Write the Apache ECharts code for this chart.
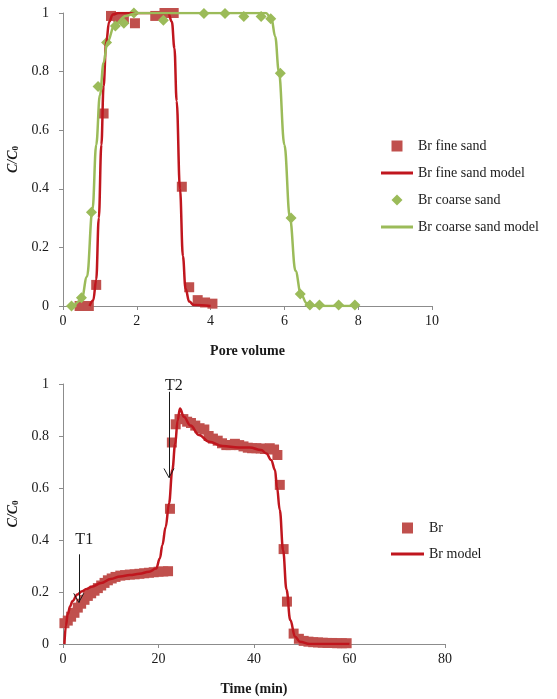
<!DOCTYPE html>
<html><head><meta charset="utf-8">
<script src="https://cdn.jsdelivr.net/npm/echarts@6/dist/echarts.min.js"></script>
<style>html,body{margin:0;padding:0;background:#fff}#c{width:557px;height:699px}</style>
</head><body><div id="c"></div>
<script>
// ---- Top chart data (pore volume vs C/C0) ----
const fineSand = [[0.45,0.0],[0.7,0.0],[0.9,0.072],[1.1,0.657],[1.3,0.99],[1.5,0.985],[1.65,0.98],[1.95,0.965],[2.5,0.99],[2.75,1.0],[3.0,1.0],[3.22,0.407],[3.42,0.064],[3.65,0.02],[3.85,0.012],[4.05,0.008]];
const fineModel = [[0.72,0.0],[0.82,0.02],[0.9,0.09],[0.97,0.3],[1.04,0.55],[1.1,0.75],[1.17,0.9],[1.25,0.97],[1.35,0.995],[1.5,1.0],[2.85,1.0],[2.95,0.97],[3.02,0.88],[3.08,0.7],[3.17,0.4],[3.25,0.17],[3.32,0.06],[3.42,0.015],[3.55,0.003],[4.0,0.0]];
const coarseSand = [[0.23,0.0],[0.5,0.028],[0.77,0.32],[0.95,0.749],[1.18,0.899],[1.42,0.956],[1.65,0.965],[1.92,1.0],[2.72,0.975],[3.82,0.998],[4.39,0.998],[4.9,0.988],[5.37,0.988],[5.63,0.98],[5.89,0.794],[6.18,0.3],[6.43,0.041],[6.69,0.003],[6.95,0.003],[7.47,0.003],[7.91,0.003]];
const coarseModel = [[0.3,0.0],[0.5,0.02],[0.65,0.1],[0.8,0.33],[0.9,0.55],[1.0,0.72],[1.1,0.83],[1.2,0.9],[1.4,0.96],[1.7,0.99],[2.0,1.0],[5.5,1.0],[5.65,0.98],[5.75,0.92],[5.85,0.8],[6.0,0.55],[6.15,0.3],[6.3,0.12],[6.45,0.04],[6.6,0.01],[6.8,0.0],[7.9,0.0]];
// ---- Bottom chart data (time vs C/C0) ----
const brData = [[0.3,0.08],[1,0.09],[1.7,0.105],[2.4,0.12],[3.1,0.14],[3.8,0.155],[4.5,0.17],[5.2,0.185],[5.9,0.195],[6.6,0.205],[7.3,0.215],[8,0.225],[8.7,0.235],[9.4,0.245],[10.2,0.252],[11,0.258],[12,0.263],[13,0.265],[14,0.267],[15,0.268],[16,0.27],[17,0.272],[18,0.274],[19,0.276],[20,0.278],[21,0.279],[22,0.28],[22.4,0.52],[22.8,0.775],[23.6,0.845],[24.4,0.865],[25.2,0.865],[26,0.855],[26.8,0.85],[27.7,0.84],[28.6,0.83],[29.6,0.825],[30.5,0.8],[31.4,0.79],[32.4,0.782],[33.3,0.772],[34.2,0.765],[35.1,0.765],[36,0.77],[36.9,0.765],[37.8,0.76],[38.7,0.755],[39.6,0.753],[40.5,0.753],[41.4,0.752],[42.3,0.75],[43.3,0.753],[44.2,0.748],[44.9,0.727],[45.4,0.612],[46.2,0.365],[46.9,0.163],[48.3,0.04],[49.4,0.02],[50.4,0.012],[51.4,0.009],[52.4,0.007],[53.4,0.006],[54.4,0.005],[55.4,0.004],[56.4,0.004],[57.4,0.003],[58.4,0.003],[59.4,0.003]];
const brModel = [[0.3,0.0],[0.6,0.07],[1,0.115],[1.5,0.145],[2,0.165],[3,0.19],[4,0.203],[5,0.212],[6,0.22],[8,0.235],[10,0.25],[12,0.26],[14,0.265],[16,0.27],[18,0.278],[19.5,0.29],[20.3,0.33],[20.8,0.38],[21.5,0.45],[22.2,0.54],[22.9,0.67],[23.5,0.77],[24,0.86],[24.5,0.906],[25.3,0.874],[26.7,0.84],[28.5,0.804],[30.6,0.778],[33.4,0.762],[36.8,0.756],[39.1,0.756],[41.5,0.746],[42.6,0.733],[43.6,0.708],[44.4,0.669],[44.8,0.605],[45.4,0.515],[46.1,0.36],[46.8,0.21],[47.6,0.092],[48.6,0.028],[49.6,0.009],[51.7,0.0],[60,0.0]];
// ---- Annotations (data coords) ----
const annoLabels = ['T1','T2'];
const annoText = [[4.45,0.40],[23.2,0.992]];
const annoShaft = [[[3.3,0.345],[3.3,0.16]],[[22.2,0.97],[22.2,0.64]]];
const arrowArm = [1.05,0.035];
// ---- Axes ----
const topX = {min:0,max:10,interval:2};
const botX = {min:0,max:80,interval:20};
const yAx = {min:0,max:1,interval:0.2};

const SERIF = 'Liberation Serif';
const RED_SQ = '#C0504D', RED_LN = '#C0161E', GREEN = '#9BBB59';
const SQUARE = 'path://M0,0 L10,0 L10,10 L0,10 Z';
const DIAMOND = 'path://M5,0 L10,5 L5,10 L0,5 Z';
const LINEICON = 'path://M0,0 L32,0 L32,3 L0,3 Z';
const axisCommon = {
  axisLine:{show:true,lineStyle:{color:'#8c8c8c',width:1}},
  axisTick:{show:true,length:4,lineStyle:{color:'#8c8c8c'}},
  splitLine:{show:false},
  axisLabel:{color:'#1a1a1a',fontFamily:SERIF,fontSize:14}
};
const yName = {
  name:'{i|C/C}{s|0}', nameLocation:'middle', nameGap:38, nameRotate:90,
  nameTextStyle:{rich:{i:{fontFamily:SERIF,fontStyle:'italic',fontWeight:'bold',fontSize:14,color:'#1a1a1a'},
                       s:{fontFamily:SERIF,fontWeight:'bold',fontSize:9,color:'#1a1a1a',verticalAlign:'bottom',padding:[6,0,0,0]}}}
};
function yAxis(gi){
  return Object.assign({type:'value',gridIndex:gi,min:yAx.min,max:yAx.max,interval:yAx.interval},axisCommon,yName,
    {axisLabel:Object.assign({},axisCommon.axisLabel,{margin:14,formatter:v=>String(Math.round(v*10)/10)})});
}
const arrowLines = [];
annoShaft.forEach(s=>{
  const tip = s[1];
  arrowLines.push([{coord:s[0]},{coord:tip}]);
  arrowLines.push([{coord:[tip[0]-arrowArm[0],tip[1]+arrowArm[1]]},{coord:tip}]);
  arrowLines.push([{coord:[tip[0]+arrowArm[0],tip[1]+arrowArm[1]]},{coord:tip}]);
});
const legendText = {fontFamily:SERIF,fontSize:14,color:'#1a1a1a'};
const chart = echarts.init(document.getElementById('c'));
chart.setOption({
  animation:false,
  backgroundColor:'#fff',
  grid:[{left:63,top:13,width:369,height:293,containLabel:false,outerBoundsMode:'none'},
        {left:63,top:384,width:382,height:260,containLabel:false,outerBoundsMode:'none'}],
  xAxis:[
    Object.assign({type:'value',gridIndex:0,min:topX.min,max:topX.max,interval:topX.interval,name:'Pore volume',nameLocation:'middle',nameGap:38,
      nameTextStyle:{fontFamily:SERIF,fontWeight:'bold',fontSize:14,color:'#1a1a1a'}},axisCommon),
    Object.assign({type:'value',gridIndex:1,min:botX.min,max:botX.max,interval:botX.interval,name:'Time (min)',nameLocation:'middle',nameGap:38,
      nameTextStyle:{fontFamily:SERIF,fontWeight:'bold',fontSize:14,color:'#1a1a1a'}},axisCommon)
  ],
  yAxis:[yAxis(0),yAxis(1)],
  legend:[
    {orient:'vertical',left:381,top:139,padding:0,itemWidth:32,itemHeight:11,itemGap:13,symbolKeepAspect:true,
     data:[{name:'Br fine sand',icon:SQUARE},{name:'Br fine sand model',icon:LINEICON},{name:'Br coarse sand',icon:DIAMOND},{name:'Br coarse sand model',icon:LINEICON}],
     textStyle:legendText},
    {orient:'vertical',left:391,top:521,padding:0,itemWidth:33,itemHeight:11,itemGap:12,symbolKeepAspect:true,
     data:[{name:'Br',icon:SQUARE},{name:'Br model',icon:LINEICON}],
     textStyle:legendText}
  ],
  series:[
    {name:'Br fine sand',type:'scatter',xAxisIndex:0,yAxisIndex:0,data:fineSand,symbol:'rect',symbolSize:10,itemStyle:{color:RED_SQ,opacity:1}},
    {name:'Br fine sand model',type:'line',xAxisIndex:0,yAxisIndex:0,data:fineModel,symbol:'none',showSymbol:false,smooth:0.4,smoothMonotone:'x',lineStyle:{color:RED_LN,width:2.5},itemStyle:{color:RED_LN}},
    {name:'Br coarse sand',type:'scatter',xAxisIndex:0,yAxisIndex:0,data:coarseSand,symbol:'diamond',symbolSize:11,itemStyle:{color:GREEN,opacity:1}},
    {name:'Br coarse sand model',type:'line',xAxisIndex:0,yAxisIndex:0,data:coarseModel,symbol:'none',showSymbol:false,smooth:0.4,smoothMonotone:'x',lineStyle:{color:GREEN,width:2.5},itemStyle:{color:GREEN}},
    {name:'Br',type:'scatter',xAxisIndex:1,yAxisIndex:1,data:brData,symbol:'rect',symbolSize:10,itemStyle:{color:RED_SQ,opacity:1}},
    {name:'Br model',type:'line',xAxisIndex:1,yAxisIndex:1,data:brModel,symbol:'none',showSymbol:false,smooth:0.4,smoothMonotone:'x',lineStyle:{color:RED_LN,width:2.5},itemStyle:{color:RED_LN},
     markLine:{silent:true,symbol:['none','none'],label:{show:false},lineStyle:{color:'#1a1a1a',width:1,type:'solid'},data:arrowLines},
     markPoint:{silent:true,symbol:'circle',symbolSize:1,itemStyle:{color:'rgba(0,0,0,0)'},
       label:{show:true,position:'inside',fontFamily:SERIF,fontSize:16,color:'#1a1a1a',formatter:p=>p.name},
       data:annoText.map((c,i)=>({name:annoLabels[i],coord:c}))}}
  ]
});
</script></body></html>
